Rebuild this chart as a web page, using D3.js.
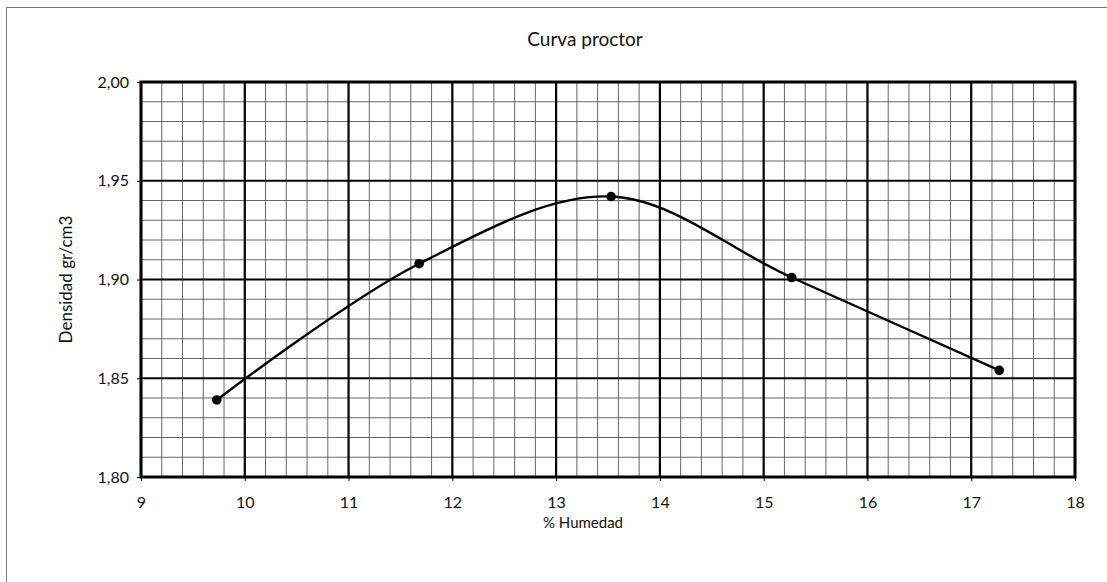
<!DOCTYPE html>
<html><head><meta charset="utf-8">
<script src="https://cdn.jsdelivr.net/npm/d3@7"></script>
<style>body{margin:0;background:#fff}</style>
</head><body><svg id="c" width="1107" height="582"></svg>
<script>
const humedad = [9.73, 11.68, 13.53, 15.27, 17.27];
const densidad = [1.839, 1.908, 1.942, 1.901, 1.854];
const xTicks = [9,10,11,12,13,14,15,16,17,18];
const yTicks = [1.80,1.85,1.90,1.95,2.00];
const title = "Curva proctor", xTitle = "% Humedad", yTitle = "Densidad gr/cm3";

const FONT = "Lato, 'Noto Sans', sans-serif";
const svg = d3.select("#c");
const L=141, R=1075, T=82, B=477;
const x = d3.scaleLinear().domain([9,18]).range([L,R]);
const y = d3.scaleLinear().domain([1.80,2.00]).range([B,T]);

svg.append("rect").attr("x",6.5).attr("y",7.5).attr("width",1120).attr("height",600)
  .attr("fill","none").attr("stroke","#777").attr("stroke-width",1);

const g = svg.append("g");
const xMinor = d3.range(9,18.001,0.2).filter(v=>Math.abs(v-Math.round(v))>1e-6);
const yMinor = d3.range(1.80,2.0001,0.01).filter(v=>Math.abs(v*20-Math.round(v*20))>1e-6);
g.selectAll(".xm").data(xMinor).join("line").attr("x1",d=>x(d)).attr("x2",d=>x(d)).attr("y1",T).attr("y2",B)
  .attr("stroke","#555").attr("stroke-width",0.9);
g.selectAll(".ym").data(yMinor).join("line").attr("y1",d=>y(d)).attr("y2",d=>y(d)).attr("x1",L).attr("x2",R)
  .attr("stroke","#555").attr("stroke-width",0.9);
g.selectAll(".xM").data(xTicks).join("line").attr("x1",d=>x(d)).attr("x2",d=>x(d)).attr("y1",T).attr("y2",B)
  .attr("stroke","#000").attr("stroke-width",2.2);
g.selectAll(".yM").data(yTicks).join("line").attr("y1",d=>y(d)).attr("y2",d=>y(d)).attr("x1",L).attr("x2",R)
  .attr("stroke","#000").attr("stroke-width",2.2);
svg.append("rect").attr("x",L).attr("y",T).attr("width",R-L).attr("height",B-T)
  .attr("fill","none").attr("stroke","#000").attr("stroke-width",3);

const xa = svg.append("g").attr("transform",`translate(0,${B})`)
  .call(d3.axisBottom(x).tickValues(xTicks).tickSize(4).tickPadding(16).tickFormat(d3.format("d")));
const ya = svg.append("g").attr("transform",`translate(${L},0)`)
  .call(d3.axisLeft(y).tickValues(yTicks).tickSize(4).tickPadding(8).tickFormat(d=>d3.format(".2f")(d).replace(".",",")));
[xa,ya].forEach(a=>{a.select(".domain").remove();
  a.selectAll("text").style("font-size","16px").style("font-family",FONT).style("fill","#111");
  a.selectAll("line").attr("stroke","#000");});

const pts = humedad.map((h,i)=>[x(h),y(densidad[i])]);
svg.append("path").attr("d",d3.line().curve(d3.curveCatmullRom.alpha(0.5))(pts))
  .attr("fill","none").attr("stroke","#000").attr("stroke-width",2.4);
svg.selectAll(".pt").data(pts).join("circle").attr("cx",d=>d[0]).attr("cy",d=>d[1]).attr("r",4.8).attr("fill","#000");

const txt = (s,xx,yy,size,tr)=>svg.append("text").attr("text-anchor","middle")
  .attr("transform",tr||`translate(${xx},${yy})`).style("font-size",size+"px").style("font-family",FONT).style("fill","#111").text(s);
txt(title,585,46,19);
txt(xTitle,583,528,15);
txt(yTitle,0,0,17,`translate(72,${(T+B)/2}) rotate(-90)`);
</script></body></html>
